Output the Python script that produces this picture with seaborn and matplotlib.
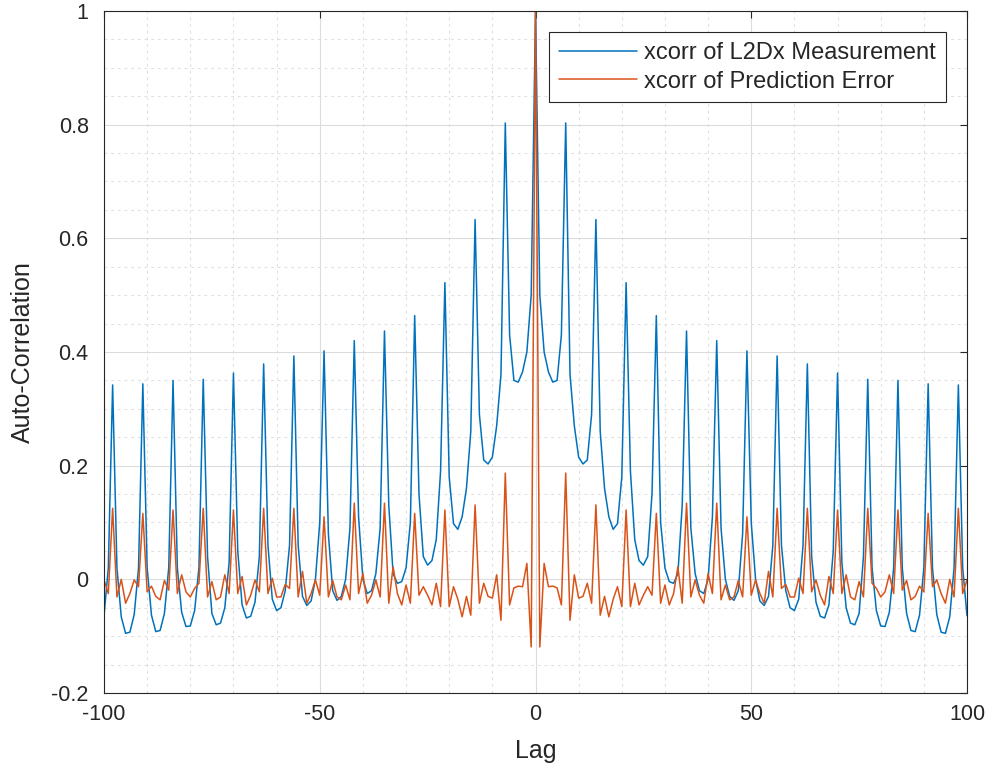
import matplotlib
matplotlib.use("Agg")
import matplotlib.pyplot as plt
import seaborn as sns
import pandas as pd
from matplotlib.ticker import MultipleLocator

# ---------------- data ----------------
lags = list(range(-100, 101))

series_names = ["xcorr of L2Dx Measurement", "xcorr of Prediction Error"]

# auto-correlation of the measurement, lags -100 .. 100
xcorr_meas = [
    -0.064, 0.02,
    0.342, 0.02, -0.066, -0.095, -0.093, -0.062, 0.02,
    0.344, 0.02, -0.063, -0.092, -0.090, -0.060, 0.02,
    0.350, 0.02, -0.058, -0.083, -0.082, -0.055, 0.02,
    0.352, 0.04, -0.060, -0.080, -0.077, -0.050, 0.03,
    0.363, 0.05, -0.045, -0.068, -0.065, -0.040, 0.04,
    0.379, 0.06, -0.035, -0.055, -0.050, -0.020, 0.06,
    0.393, 0.06, -0.030, -0.046, -0.038, 0.000, 0.10,
    0.402, 0.08, -0.020, -0.037, -0.030, 0.000, 0.09,
    0.420, 0.11, 0.000, -0.025, -0.020, 0.010, 0.09,
    0.437, 0.13, 0.010, -0.007, -0.004, 0.020, 0.10,
    0.464, 0.15, 0.040, 0.025, 0.033, 0.070, 0.19,
    0.522, 0.18, 0.098, 0.088, 0.110, 0.160, 0.26,
    0.633, 0.29, 0.210, 0.203, 0.215, 0.270, 0.36,
    0.803, 0.43, 0.350, 0.347, 0.365, 0.400, 0.50,
    1.000,
    0.50, 0.400, 0.365, 0.347, 0.350, 0.43, 0.803,
    0.36, 0.270, 0.215, 0.203, 0.210, 0.29, 0.633,
    0.26, 0.160, 0.110, 0.088, 0.098, 0.18, 0.522,
    0.19, 0.070, 0.033, 0.025, 0.040, 0.15, 0.464,
    0.10, 0.020, -0.004, -0.007, 0.010, 0.13, 0.437,
    0.09, 0.010, -0.020, -0.025, 0.000, 0.11, 0.420,
    0.09, 0.000, -0.030, -0.037, -0.020, 0.08, 0.402,
    0.10, 0.000, -0.038, -0.046, -0.030, 0.06, 0.393,
    0.06, -0.020, -0.050, -0.055, -0.035, 0.06, 0.379,
    0.04, -0.040, -0.065, -0.068, -0.045, 0.05, 0.363,
    0.03, -0.050, -0.077, -0.080, -0.060, 0.04, 0.352,
    0.02, -0.055, -0.082, -0.083, -0.058, 0.02, 0.350,
    0.02, -0.060, -0.090, -0.092, -0.063, 0.02, 0.344,
    0.02, -0.062, -0.093, -0.095, -0.066, 0.02, 0.342,
    0.02, -0.064,
]

# auto-correlation of the prediction error, lags -100 .. 100
xcorr_err = [
    -0.001, -0.025,
    0.125, -0.031, 0.000, -0.042, -0.025, -0.001, -0.013,
    0.116, -0.022, -0.012, -0.030, -0.036, -0.002, -0.019,
    0.122, -0.025, 0.008, -0.022, -0.031, -0.016, -0.007,
    0.125, -0.031, -0.004, -0.036, -0.031, 0.008, -0.025,
    0.122, -0.025, 0.005, -0.045, -0.028, -0.001, -0.022,
    0.125, -0.025, 0.002, -0.031, -0.031, -0.009, -0.016,
    0.125, -0.031, 0.014, -0.042, -0.025, -0.001, -0.028,
    0.110, -0.031, -0.002, -0.031, -0.036, -0.010, -0.036,
    0.134, -0.025, 0.010, -0.042, -0.028, -0.001, -0.031,
    0.134, -0.042, 0.022, -0.025, -0.045, -0.010, -0.042,
    0.116, -0.028, -0.013, -0.028, -0.045, -0.007, -0.048,
    0.122, -0.048, -0.013, -0.035, -0.066, -0.030, -0.063,
    0.131, -0.042, -0.007, -0.030, -0.033, 0.008, -0.072,
    0.187, -0.045, -0.015, -0.012, -0.013, 0.028, -0.119,
    1.000,
    -0.119, 0.028, -0.013, -0.012, -0.015, -0.045, 0.187,
    -0.072, 0.008, -0.033, -0.030, -0.007, -0.042, 0.131,
    -0.063, -0.030, -0.066, -0.035, -0.013, -0.048, 0.122,
    -0.048, -0.007, -0.045, -0.028, -0.013, -0.028, 0.116,
    -0.042, -0.010, -0.045, -0.025, 0.022, -0.042, 0.134,
    -0.031, -0.001, -0.028, -0.042, 0.010, -0.025, 0.134,
    -0.036, -0.010, -0.036, -0.031, -0.002, -0.031, 0.110,
    -0.028, -0.001, -0.025, -0.042, 0.014, -0.031, 0.125,
    -0.016, -0.009, -0.031, -0.031, 0.002, -0.025, 0.125,
    -0.022, -0.001, -0.028, -0.045, 0.005, -0.025, 0.122,
    -0.025, 0.008, -0.031, -0.036, -0.004, -0.031, 0.125,
    -0.007, -0.016, -0.031, -0.022, 0.008, -0.025, 0.122,
    -0.019, -0.002, -0.036, -0.030, -0.012, -0.022, 0.116,
    -0.013, -0.001, -0.025, -0.042, 0.000, -0.031, 0.125,
    -0.025, -0.001,
]

x_ticks = [-100, -50, 0, 50, 100]
y_ticks = [-0.2, 0, 0.2, 0.4, 0.6, 0.8, 1]
y_tick_labels = ["-0.2", "0", "0.2", "0.4", "0.6", "0.8", "1"]
colors = ["#0072BD", "#D95319"]

# ---------------- plotting ----------------
sns.set_theme(style="white")
plt.rcParams["font.family"] = ["Liberation Sans", "DejaVu Sans"]

df = pd.DataFrame({
    "Lag": lags + lags,
    "value": xcorr_meas + xcorr_err,
    "series": [series_names[0]] * len(lags) + [series_names[1]] * len(lags),
})

W, H = 993, 780
fig = plt.figure(figsize=(W / 100, H / 100), dpi=100)
fig.patch.set_facecolor("white")
L, R, T, B = 104, 967, 11, 693
ax = fig.add_axes([L / W, 1 - B / H, (R - L) / W, (B - T) / H])

sns.lineplot(data=df, x="Lag", y="value", hue="series", palette=colors,
             estimator=None, sort=False, linewidth=1.1, ax=ax)

ax.set_xlim(-100, 100)
ax.set_ylim(-0.2, 1)
ax.set_xticks(x_ticks)
ax.set_xticklabels([str(v) for v in x_ticks])
ax.set_yticks(y_ticks)
ax.set_yticklabels(y_tick_labels)
ax.xaxis.set_minor_locator(MultipleLocator(10))
ax.yaxis.set_minor_locator(MultipleLocator(0.05))

ax.set_axisbelow(True)
ax.grid(which="major", color="#dcdcdc", linewidth=0.8, linestyle="-")
ax.grid(which="minor", color="#e0e0e0", linewidth=0.8, linestyle=(0, (2.5, 3.5)))

dark = "#262626"
for sp in ax.spines.values():
    sp.set_color(dark)
    sp.set_linewidth(0.8)
ax.tick_params(which="major", direction="in", length=5, width=0.8, color=dark,
               labelsize=15.5, labelcolor=dark, top=True, right=True)
ax.tick_params(axis="y", which="major", pad=11)
ax.tick_params(axis="x", which="major", pad=8)
ax.tick_params(which="minor", length=0, top=True, right=True)

ax.set_xlabel("Lag", fontsize=18, color=dark, labelpad=10)
ax.set_ylabel("Auto-Correlation", fontsize=18, color=dark, labelpad=12)

leg = ax.legend(loc="upper right",
                bbox_to_anchor=((946 - L) / (R - L), 1 - (32 - T) / (B - T)),
                frameon=True, fancybox=False, framealpha=1, edgecolor=dark,
                fontsize=17, handlelength=3.3, handletextpad=0.3,
                labelspacing=0.28, borderpad=0.42, borderaxespad=0)
leg.get_frame().set_linewidth(0.8)
for t in leg.get_texts():
    t.set_color(dark)

fig.savefig("out.png", dpi=100, facecolor="white")
